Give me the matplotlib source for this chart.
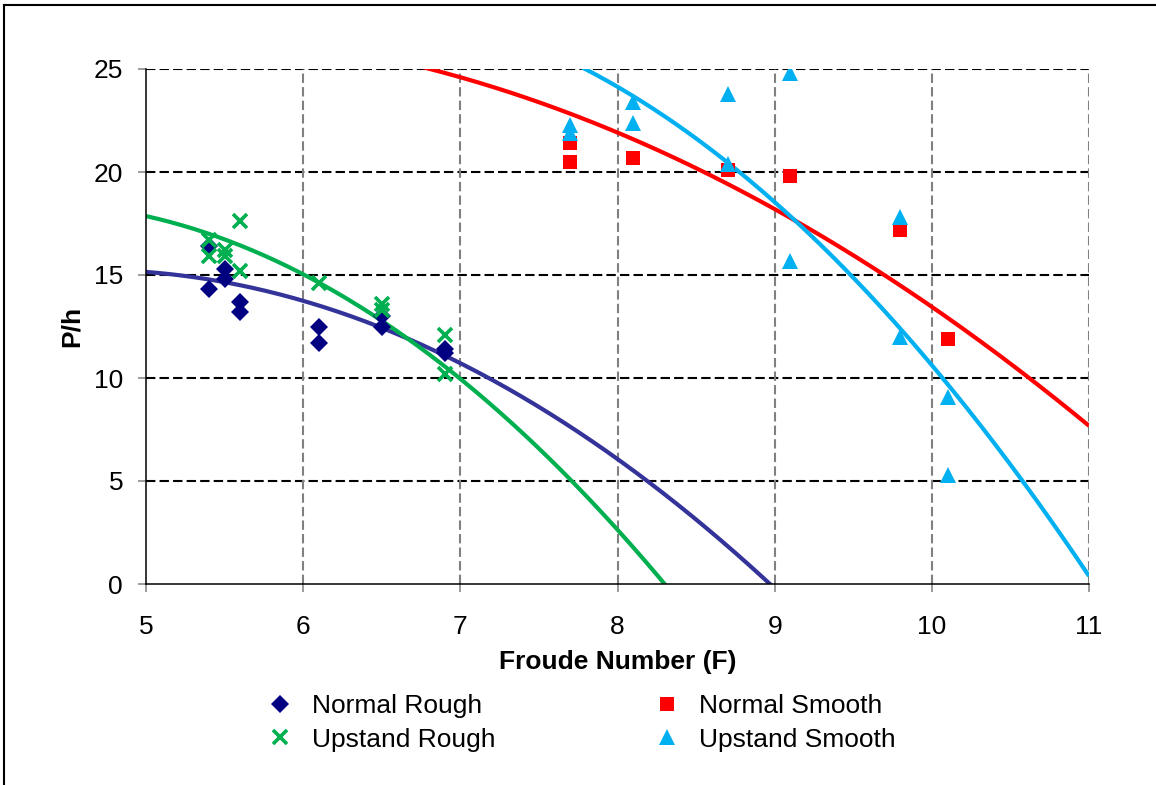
import numpy as np
import matplotlib
matplotlib.use("Agg")
import matplotlib.pyplot as plt
from matplotlib.lines import Line2D

# Measured points: Froude number vs. P/h
nr_x = [5.4, 5.4, 5.5, 5.5, 5.6, 5.6, 6.1, 6.1, 6.5, 6.5, 6.9, 6.9]
nr_y = [16.4, 14.3, 15.3, 14.8, 13.7, 13.2, 12.5, 11.7, 13.0, 12.5, 11.4, 11.2]

ur_x = [5.4, 5.4, 5.5, 5.5, 5.6, 5.6, 6.1, 6.5, 6.5, 6.9, 6.9]
ur_y = [16.7, 15.9, 16.2, 15.9, 17.6, 15.2, 14.6, 13.6, 13.3, 12.1, 10.2]

ns_x = [7.7, 7.7, 8.1, 8.7, 9.1, 9.8, 10.1]
ns_y = [21.4, 20.5, 20.7, 20.1, 19.8, 17.2, 11.9]

us_x = [7.7, 7.7, 8.1, 8.1, 8.7, 8.7, 9.1, 9.1, 9.8, 9.8, 10.1, 10.1]
us_y = [22.3, 21.9, 23.4, 22.4, 23.8, 20.4, 24.8, 15.7, 17.8, 12.0, 9.1, 5.3]

# Second-order trendline coefficients (a*F^2 + b*F + c)
nr_trend = [-0.8124, 7.533, -2.205]
ur_trend = [-1.125, 9.55, -1.765]
ns_trend = [-0.515, 5.04, 14.555]
us_trend = [-1.16, 14.123, -14.607]

x_ticks = [5, 6, 7, 8, 9, 10, 11]
y_ticks = [0, 5, 10, 15, 20, 25]

FONT = "Liberation Sans"
FS = 19

plt.rcParams["font.family"] = [FONT, "DejaVu Sans"]

W, H = 1156, 785
fig = plt.figure(figsize=(W / 100, H / 100), dpi=100)
ax = fig.add_axes([146 / W, 1 - 584 / H, (1089 - 146) / W, (584 - 69) / H])

ax.set_xlim(5, 11)
ax.set_ylim(0, 25)

# grid: black dashed horizontals, grey dashed verticals
for yv in y_ticks[1:]:
    ax.axhline(yv, color="black", lw=1.5, ls=(0, (4.5, 2)), zorder=1)
for xv in x_ticks[1:]:
    ax.axvline(xv, color="#808080", lw=1.5, ls=(0, (4.5, 2)), zorder=1)

series = [
    (nr_x, nr_y, nr_trend, "Normal Rough",
     dict(marker="D", color="#000080", ms=9.5, mew=0), "#333399"),
    (ur_x, ur_y, ur_trend, "Upstand Rough",
     dict(marker="x", color="#00B050", ms=10, mew=2.6), "#00B050"),
    (ns_x, ns_y, ns_trend, "Normal Smooth",
     dict(marker="s", color="#FF0000", ms=10.5, mew=0), "#FF0000"),
    (us_x, us_y, us_trend, "Upstand Smooth",
     dict(marker="^", color="#00B0F0", ms=11, mew=0), "#00B0F0"),
]

xs = np.linspace(5, 11, 400)
handles = []
for x, y, coef, name, mk, lc in series:
    h, = ax.plot(x, y, ls="none", label=name, zorder=3, **mk)
    handles.append(h)
    ax.plot(xs, np.polyval(coef, xs), color=lc, lw=3, zorder=2, solid_capstyle="butt")

for s in ("top", "right"):
    ax.spines[s].set_visible(False)
for s in ("left", "bottom"):
    ax.spines[s].set_color("black")
    ax.spines[s].set_linewidth(1.1)
    ax.spines[s].set_zorder(4)

ax.set_xticks(x_ticks)
ax.set_yticks(y_ticks)
ax.tick_params(axis="both", direction="out", length=5.5, width=1.1, color="#808080",
               labelsize=FS, labelcolor="black")
ax.tick_params(axis="x", pad=17)
ax.tick_params(axis="y", pad=11)

ax.set_xlabel("Froude Number (F)", fontsize=FS, fontweight="bold", labelpad=8)
ax.set_ylabel("P/h", fontsize=FS, fontweight="bold", labelpad=7)

fig.legend(handles=handles, loc="upper left", bbox_to_anchor=(267 / W, 1 - 694 / H),
           ncol=2, frameon=False, fontsize=FS, handlelength=1.0, handletextpad=0.7,
           columnspacing=6.0, borderpad=0, borderaxespad=0, labelspacing=0.36)

# outer chart frame
fig.add_artist(Line2D([3.5 / W, 3.5 / W], [0, 1 - 5 / H], color="black", lw=1.5,
                      transform=fig.transFigure))
fig.add_artist(Line2D([3.5 / W, 1], [1 - 5 / H, 1 - 5 / H], color="black", lw=1.5,
                      transform=fig.transFigure))

fig.savefig("out.png", dpi=100)
